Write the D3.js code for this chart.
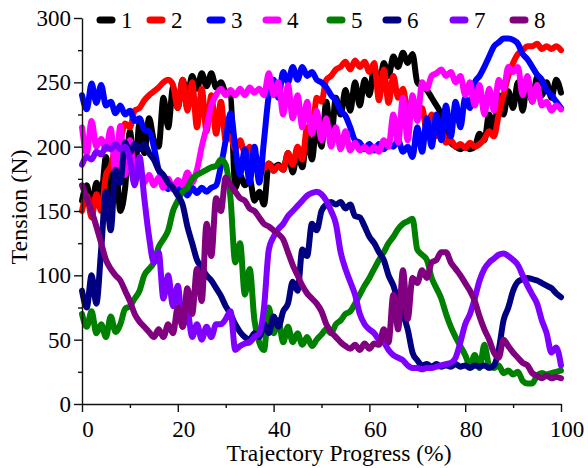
<!DOCTYPE html>
<html>
<head>
<meta charset="utf-8">
<script src="https://cdn.jsdelivr.net/npm/d3@7"></script>
<style>
  html, body { margin: 0; padding: 0; background: #fff; }
  svg { display: block; }
  text { font-family: "Liberation Serif", "Times New Roman", Times, serif; fill: #000; }
</style>
</head>
<body>
<svg id="chart" width="588" height="468"></svg>
<script>
// Trajectory progress (%) sampling grid
const progress = [
  0,1,2,3,4,5,6,7,8,9,10,11,12,13,14,15,16,17,18,19,20,
  21,22,23,24,25,26,27,28,29,30,31,32,33,34,35,36,37,38,39,40,
  41,42,43,44,45,46,47,48,49,50,51,52,53,54,55,56,57,58,59,60,
  61,62,63,64,65,66,67,68,69,70,71,72,73,74,75,76,77,78,79,80,
  81,82,83,84,85,86,87,88,89,90,91,92,93,94,95,96,97,98,99,100
];

// Cable tensions (N), one array per cable
const cable1 = [
  158,170,152,172,162,192,160,188,150,168,212,178,218,195,222,205,200,238,215,246,230,
  252,240,255,245,257,247,257,246,250,242,240,168,178,170,175,158,165,155,187,184,
  186,182,195,180,196,184,210,190,218,200,235,205,238,225,244,228,250,232,252,240,
  262,246,265,255,270,262,273,265,272,250,247,244,238,232,225,210,203,200,198,200,
  198,200,210,205,225,212,240,225,243,230,250,228,252,235,254,240,250,238,252,242
];
const cable2 = [
  150,162,145,163,150,178,185,200,205,218,215,228,230,236,240,243,246,250,252,248,230,
  252,228,250,215,245,212,240,210,235,205,208,198,205,195,200,185,190,183,187,181,
  185,182,195,186,200,190,215,210,238,235,252,255,260,262,266,260,267,262,266,258,
  265,236,260,234,255,238,245,228,236,222,230,212,225,208,215,203,205,200,202,199,
  203,200,202,206,212,208,225,240,255,265,272,275,278,278,280,276,278,276,278,275
];
const cable3 = [
  240,229,249,234,248,232,235,226,232,225,228,220,222,213,212,200,182,176,167,170,164,
  170,162,168,164,168,165,168,170,185,205,226,200,178,198,172,200,172,205,240,252,
  238,258,250,262,252,262,255,258,252,250,246,240,236,228,224,215,205,203,198,202,
  197,202,198,202,200,205,196,200,192,215,196,222,200,225,205,232,208,235,215,238,
  230,250,255,262,270,278,281,284,284,283,280,272,268,262,256,252,244,240,235,230
];
const cable4 = [
  215,195,220,200,206,198,214,180,216,178,205,175,180,172,178,170,176,168,175,167,174,
  170,180,172,182,200,215,232,240,245,240,244,240,245,240,246,242,245,240,257,240,
  250,225,248,222,240,215,235,210,228,205,222,200,215,198,212,197,203,197,200,196,
  200,196,205,200,225,203,238,205,240,220,250,245,255,257,260,255,258,250,255,240,
  250,232,248,225,245,228,252,245,262,258,262,240,255,235,248,232,235,228,232,229
];
const cable5 = [
  70,60,72,55,62,52,68,56,62,74,76,82,88,100,105,110,122,128,135,150,158,
  165,168,175,178,180,182,184,185,190,186,160,110,125,85,105,65,48,42,75,55,
  65,48,60,48,55,46,52,45,50,54,58,55,62,65,70,72,78,85,92,98,
  105,112,118,125,130,136,140,142,144,120,116,112,98,90,82,70,60,52,45,38,
  30,38,28,46,30,28,30,24,26,23,25,18,16,16,22,24,23,24,25,26
];
const cable6 = [
  88,75,100,78,120,165,135,182,172,203,195,202,198,202,195,190,182,178,172,168,162,
  155,138,125,112,106,100,96,90,84,76,70,62,56,52,50,55,52,62,55,68,
  60,72,78,95,88,120,115,140,135,150,155,157,155,157,152,155,146,145,138,130,
  125,118,112,100,92,80,70,58,40,34,30,31,29,31,29,30,29,31,29,30,
  28,30,29,30,28,30,42,65,75,88,95,97,98,97,96,94,92,90,86,83
];
const cable7 = [
  186,192,190,196,194,200,198,202,198,200,190,170,192,160,130,110,118,82,100,76,92,
  60,72,52,62,50,60,52,62,62,66,72,42,45,47,48,52,55,75,120,130,
  136,140,146,150,154,158,162,164,165,163,158,150,140,118,105,95,85,70,62,58,
  55,50,48,42,38,36,34,30,28,28,27,28,28,29,30,31,32,36,48,62,
  70,82,96,105,110,113,116,117,115,112,108,100,92,85,78,65,55,40,44,30
];
const cable8 = [
  170,160,150,138,125,112,105,100,96,88,80,70,64,60,56,52,58,52,62,55,75,
  60,90,70,105,80,140,115,160,150,176,170,165,160,158,152,150,145,140,138,135,
  132,128,118,108,100,92,86,82,78,72,62,56,52,48,45,43,46,42,47,43,
  47,46,58,48,85,58,104,66,98,94,104,98,110,112,118,118,110,105,100,94,
  88,80,68,58,50,40,36,50,45,40,36,32,30,24,22,20,22,20,21,20
];

const seriesNames = ["1", "2", "3", "4", "5", "6", "7", "8"];
const seriesColors = ["#000000", "#ff0000", "#0000ff", "#ff00ff", "#008000", "#000080", "#8000ff", "#800080"];
const seriesValues = [cable1, cable2, cable3, cable4, cable5, cable6, cable7, cable8];

const xMajorTicks = [0, 20, 40, 60, 80, 100];
const xMinorTicks = [10, 30, 50, 70, 90];
const yMajorTicks = [0, 50, 100, 150, 200, 250, 300];
const yMinorTicks = [25, 75, 125, 175, 225, 275];

const xTitle = "Trajectory Progress (%)";
const yTitle = "Tension (N)";

// ---- layout ----
const fontStack = "'Liberation Serif', 'Times New Roman', Times, serif";
const svg = d3.select("#chart");
const plotLeft = 82, plotRight = 561, plotTop = 18, plotBottom = 404;

const x = d3.scaleLinear().domain([0, 100]).range([plotLeft, plotRight]);
const y = d3.scaleLinear().domain([0, 300]).range([plotBottom, plotTop]);

// series lines, cable 1 underneath and cable 8 on top
const line = d3.line()
  .x((d, i) => x(progress[i]))
  .y(d => y(d))
  .curve(d3.curveMonotoneX);

const lines = svg.append("g").attr("class", "series");
seriesValues.forEach((vals, k) => {
  lines.append("path")
    .datum(vals)
    .attr("d", line)
    .attr("fill", "none")
    .attr("stroke", seriesColors[k])
    .attr("stroke-width", 6)
    .attr("stroke-linejoin", "round")
    .attr("stroke-linecap", "round");
});

// axes: major ticks with labels, minor ticks without
const axisColor = "#111";
const yAxis = svg.append("g").attr("transform", `translate(${plotLeft},0)`)
  .call(d3.axisLeft(y).tickValues(yMajorTicks).tickSize(8).tickSizeOuter(0).tickPadding(3));
svg.append("g").attr("transform", `translate(${plotLeft},0)`)
  .call(d3.axisLeft(y).tickValues(yMinorTicks).tickSize(4).tickSizeOuter(0).tickFormat(""))
  .select(".domain").remove();

const xAxis = svg.append("g").attr("transform", `translate(0,${plotBottom})`)
  .call(d3.axisBottom(x).tickValues(xMajorTicks).tickSize(8).tickSizeOuter(0));
svg.append("g").attr("transform", `translate(0,${plotBottom})`)
  .call(d3.axisBottom(x).tickValues(xMinorTicks).tickSize(4).tickSizeOuter(0).tickFormat(""))
  .select(".domain").remove();

svg.selectAll(".domain, .tick line").attr("stroke", axisColor).attr("stroke-width", 1.4);
yAxis.selectAll(".tick text")
  .attr("font-size", 23)
  .attr("font-family", fontStack)
  .attr("fill", "#000")
  .attr("dy", "0.33em");
xAxis.selectAll(".tick text")
  .attr("font-size", 23)
  .attr("font-family", fontStack)
  .attr("fill", "#000")
  .attr("y", 33)
  .attr("dy", 0)
  .attr("dx", 5.5);

// axis titles
svg.append("text")
  .attr("x", 339).attr("y", 461)
  .attr("text-anchor", "middle")
  .attr("font-family", fontStack)
  .attr("font-size", 23.5)
  .text(xTitle);
svg.append("text")
  .attr("transform", "translate(27,207) rotate(-90)")
  .attr("text-anchor", "middle")
  .attr("font-family", fontStack)
  .attr("font-size", 24)
  .text(yTitle);

// legend across the top
const legendX = [97, 147, 207, 263, 327, 383, 450, 510];
const legend = svg.append("g").attr("class", "legend");
seriesNames.forEach((name, k) => {
  const lx = legendX[k];
  legend.append("line")
    .attr("x1", lx + 3).attr("x2", lx + 15)
    .attr("y1", 20).attr("y2", 20)
    .attr("stroke", seriesColors[k])
    .attr("stroke-width", 7)
    .attr("stroke-linecap", "round");
  legend.append("text")
    .attr("x", lx + 24).attr("y", 28)
    .attr("font-family", fontStack)
    .attr("font-size", 23)
    .text(name);
});
</script>
</body>
</html>
